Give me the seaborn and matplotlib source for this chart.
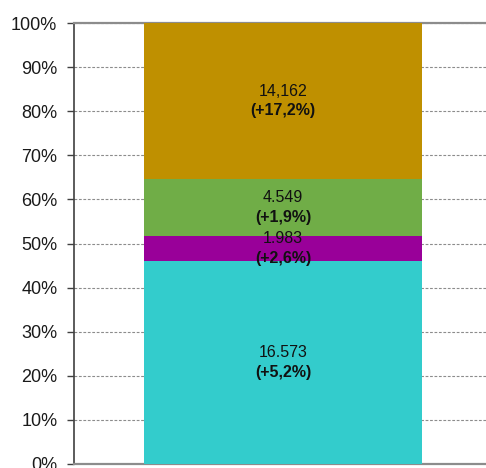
import matplotlib
matplotlib.use("Agg")
import matplotlib.pyplot as plt
import seaborn as sns
import pandas as pd
import numpy as np

# Data (bottom to top)
segments = ["A", "B", "C", "D"]
shares = [46.1, 5.6, 12.9, 35.4]          # percent of bar
value_labels = ["16.573", "1.983", "4.549", "14,162"]
change_labels = ["(+5,2%)", "(+2,6%)", "(+1,9%)", "(+17,2%)"]
colors = ["#33CCCC", "#990099", "#70AD47", "#BF9000"]
yticks = list(range(0, 101, 10))
ytick_labels = [f"{t}%" for t in yticks]

sns.set_theme(style="white")
plt.rcParams['font.family'] = ['Liberation Sans', 'DejaVu Sans']

fig = plt.figure(figsize=(4.86, 4.68), dpi=100)
ax = fig.add_axes([74/486, 4/468, (600-74)/486, (464-23)/468])

cum = np.cumsum(shares)
df = pd.DataFrame({"cat": ["x"] * len(segments), "top": cum, "seg": segments})

# draw from top-most cumulative down so lower segments overlay
for i in reversed(range(len(segments))):
    sns.barplot(data=df.iloc[[i]], x="cat", y="top", color=colors[i],
                width=0.665, saturation=1, ax=ax, zorder=3, linewidth=0)

ax.set_xlim(-0.5, 0.7584)
ax.set_ylim(0, 100)
ax.set_yticks(yticks)
ax.set_yticklabels(ytick_labels, fontsize=13, color="#1a1a1a")
ax.set_xticks([])
ax.set_xlabel("")
ax.set_ylabel("")
ax.patch.set_edgecolor("none")

ax.yaxis.grid(True, linestyle=(0, (2.5, 1.5)), color="#8c8c8c", linewidth=0.8, zorder=0)
ax.set_axisbelow(True)
ax.tick_params(axis="y", which="major", left=True, right=False, length=5, width=1,
               color="#404040", pad=7)

ax.spines["left"].set_color("#404040")
ax.spines["left"].set_linewidth(1.2)
ax.spines["bottom"].set_color("#8c8c8c")
ax.spines["bottom"].set_linewidth(1.6)
ax.spines["top"].set_color("#8c8c8c")
ax.spines["top"].set_linewidth(1.6)
ax.spines["right"].set_visible(False)

bottoms = np.concatenate([[0], cum[:-1]])
for i in range(len(segments)):
    yc = bottoms[i] + shares[i] / 2
    ax.annotate(value_labels[i], (0, yc), xytext=(0, 7), textcoords="offset points",
                ha="center", va="center", fontsize=11.5, color="#111111", zorder=5)
    ax.annotate(change_labels[i], (0, yc), xytext=(0, -7), textcoords="offset points",
                ha="center", va="center", fontsize=11.5, fontweight="bold", color="#111111", zorder=5)

fig.savefig("out.png", dpi=100)
